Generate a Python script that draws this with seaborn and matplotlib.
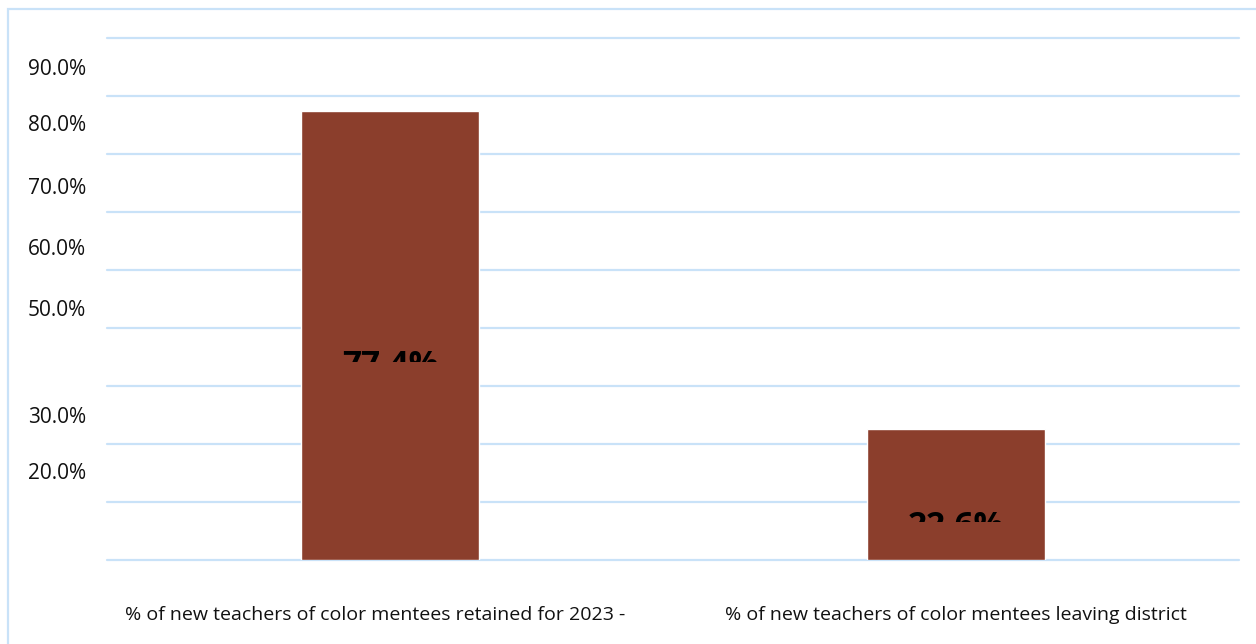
import matplotlib
matplotlib.use("Agg")
import matplotlib.pyplot as plt
from matplotlib.patches import Rectangle
from matplotlib.transforms import ScaledTranslation
import seaborn as sns
import pandas as pd

# data
categories = ["% of new teachers of color mentees retained for 2023 -",
              "% of new teachers of color mentees leaving district"]
values = [77.4, 22.6]
value_labels = ["77.4%", "22.6%"]

# tick labels sit a bit off the gridlines in the original
tick_labels = ["90.0%", "80.0%", "70.0%", "60.0%", "50.0%", "30.0%", "20.0%"]
tick_pos = [85.0, 75.3, 64.5, 54.0, 43.4, 25.0, 15.3]
grid_pos = [0, 10, 20, 30, 40, 50, 60, 70, 80, 90]

# where the (clipped) value labels show
label_top = [36.3, 8.7]
label_cut = [34.1, 6.6]

sns.set_style("white")
plt.rcParams["font.family"] = ["Open Sans", "DejaVu Sans"]

bar_color = "#8B3E2C"
grid_color = "#C9E2F8"

df = pd.DataFrame({"cat": categories, "val": values})

fig = plt.figure(figsize=(12.56, 6.44), dpi=100)
ax = fig.add_axes([107 / 1256, 84 / 644, 1132 / 1256, 522 / 644])

sns.barplot(data=df, x="cat", y="val", color=bar_color, width=0.313,
            saturation=1, ax=ax, zorder=3)

ax.set_ylim(0, 90)
ax.set_xlim(-0.5, 1.5)
for g in grid_pos:
    ax.axhline(g, color=grid_color, lw=1.6, zorder=1, clip_on=False)

ax.set_yticks(tick_pos)
ax.set_yticklabels(tick_labels, fontsize=15, color="#111111")
ax.tick_params(axis="y", length=0, pad=15)
ax.tick_params(axis="x", length=0, pad=33, labelsize=14, labelcolor="#111111")
ax.set_xlabel("")
ax.set_ylabel("")
for s in ax.spines.values():
    s.set_visible(False)

# first category label is a bit left of its bar in the original
lab0 = ax.get_xticklabels()[0]
lab0.set_transform(lab0.get_transform() + ScaledTranslation(-0.15, 0, fig.dpi_scale_trans))

# value labels, cut off like in the source image
for i, lab in enumerate(value_labels):
    t = ax.text(i, label_top[i], lab, ha="center", va="top", fontsize=24,
                fontweight="bold", color="black", zorder=4, clip_on=True)
    clip = Rectangle((i - 0.5, label_cut[i]), 1, 100, transform=ax.transData)
    t.set_clip_path(clip)

# outer chart border
fig.add_artist(Rectangle((8 / 1256, -0.1), 1.2, (644 - 9) / 644 + 0.1,
                         transform=fig.transFigure, fill=False,
                         edgecolor=grid_color, lw=1.6))

fig.savefig("out.png", dpi=100)
